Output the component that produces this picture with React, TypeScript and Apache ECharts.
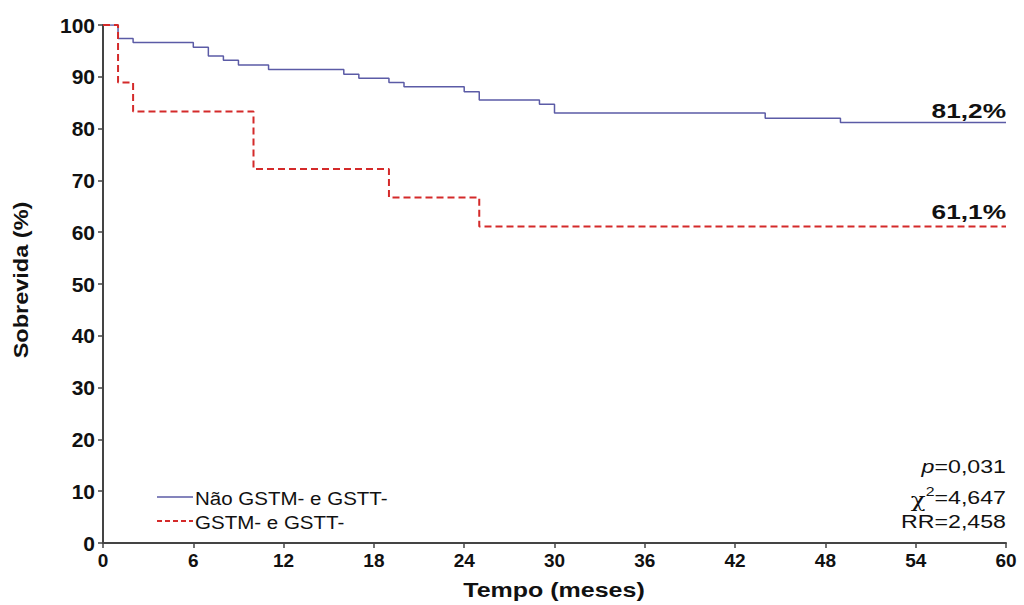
import React, { useEffect, useRef } from "react";
import * as echarts from "echarts";

const groupNames = ["Não GSTM- e GSTT-", "GSTM- e GSTT-"];
const blueMonths = [0, 1, 2, 6, 7, 8, 9, 11, 16, 17, 19, 20, 24, 25, 29, 30, 44, 49, 60];
const blueSurv = [100, 97.4, 96.6, 95.7, 94.0, 93.2, 92.3, 91.4, 90.5, 89.7, 88.9, 88.1, 87.1, 85.5, 84.7, 83.0, 82.0, 81.2, 81.2];
const redMonths = [0, 1, 2, 10, 19, 25, 60];
const redSurv = [100, 88.9, 83.3, 72.2, 66.7, 61.1, 61.1];
const endLabels = ["81,2%", "61,1%"];
const stats = { p: "0,031", chi2: "4,647", rr: "2,458" };
const axisTitles = { x: "Tempo (meses)", y: "Sobrevida (%)" };

const FONT = "'Liberation Sans', Arial, Helvetica, sans-serif";
const BLUE = "#5b5ba6";
const RED = "#d42a2a";
const INK = "#111111";

export default function App() {
  const ref = useRef<HTMLDivElement>(null);
  useEffect(() => {
    const chart = echarts.init(ref.current!, null, { renderer: "svg" });
    const blue = blueMonths.map((m, i) => [m, blueSurv[i]]);
    const red = redMonths.map((m, i) => [m, redSurv[i]]);
    chart.setOption({
      animation: false,
      backgroundColor: "#ffffff",
      grid: { left: 103, right: 18, top: 25, bottom: 62 },
      xAxis: {
        type: "value",
        min: 0,
        max: 60,
        interval: 6,
        axisLine: { lineStyle: { color: "#444", width: 2 } },
        axisTick: { show: true, length: 5, lineStyle: { color: "#444", width: 1.5 } },
        axisLabel: { fontFamily: FONT, fontWeight: "bold", fontSize: 19, color: INK, margin: 8 },
        splitLine: { show: false },
      },
      yAxis: {
        type: "value",
        min: 0,
        max: 100,
        interval: 10,
        axisLine: { show: true, lineStyle: { color: "#444", width: 2 } },
        axisTick: { show: true, length: 5, lineStyle: { color: "#444", width: 1.5 } },
        axisLabel: { fontFamily: FONT, fontWeight: "bold", fontSize: 21, color: INK, margin: 8 },
        splitLine: { show: false },
      },
      series: [
        {
          name: groupNames[0],
          type: "line",
          step: "end",
          data: blue,
          symbol: "none",
          lineStyle: { color: BLUE, width: 1.5 },
          itemStyle: { color: BLUE },
        },
        {
          name: groupNames[1],
          type: "line",
          step: "end",
          data: red,
          symbol: "none",
          lineStyle: { color: RED, width: 2, type: [7, 4] },
          itemStyle: { color: RED },
        },
      ],
    });

    const endB = chart.convertToPixel({ gridIndex: 0 }, [blueMonths[blueMonths.length - 1], blueSurv[blueSurv.length - 1]]) as number[];
    const endR = chart.convertToPixel({ gridIndex: 0 }, [redMonths[redMonths.length - 1], redSurv[redSurv.length - 1]]) as number[];

    const txt = (text: string, x: number, y: number, size: number, bold: boolean, sx: number, align = "left", extra: any = {}) => ({
      type: "text",
      x,
      y,
      scaleX: sx,
      style: {
        text,
        fontFamily: FONT,
        fontSize: size,
        fontWeight: bold ? "bold" : "normal",
        fill: INK,
        align,
        verticalAlign: "middle",
        ...extra,
      },
    });

    chart.setOption({
      graphic: [
        txt(axisTitles.x, 554, 590, 20, true, 1.25, "center"),
        {
          type: "text",
          x: 21,
          y: 280,
          rotation: Math.PI / 2,
          scaleX: 1.12,
          style: {
            text: axisTitles.y,
            fontFamily: FONT,
            fontSize: 21,
            fontWeight: "bold",
            fill: INK,
            align: "center",
            verticalAlign: "middle",
          },
        },
        txt(endLabels[0], endB[0], endB[1] - 12, 21, true, 1.25, "right"),
        txt(endLabels[1], endR[0], endR[1] - 15, 21, true, 1.25, "right"),
        // legend
        { type: "line", shape: { x1: 157, y1: 497, x2: 193, y2: 497 }, style: { stroke: BLUE, lineWidth: 1.5 } },
        { type: "line", shape: { x1: 157, y1: 521, x2: 193, y2: 521 }, style: { stroke: RED, lineWidth: 2, lineDash: [5, 3] } },
        txt(groupNames[0], 195, 498, 19, false, 1.08),
        txt(groupNames[1], 195, 522, 19, false, 1.08),
        // stats
        {
          type: "text",
          x: 1006,
          y: 466,
          scaleX: 1.22,
          style: {
            text: "{i|p}=" + stats.p,
            fontFamily: FONT,
            fontSize: 19,
            fill: INK,
            align: "right",
            verticalAlign: "middle",
            rich: { i: { fontStyle: "italic", fontSize: 19, fontFamily: FONT, fill: INK } },
          },
        },
        {
          type: "text",
          x: 1006,
          y: 497,
          scaleX: 1.22,
          style: {
            text: "{g|χ}{s|2}{n|=" + stats.chi2 + "}",
            fontFamily: FONT,
            fontSize: 19,
            fill: INK,
            align: "right",
            verticalAlign: "middle",
            rich: {
              g: { fontSize: 20, fontFamily: "'DejaVu Serif', serif", fill: INK, padding: [6, 0, 0, 0] },
              s: { fontSize: 13, fontFamily: FONT, fill: INK, padding: [0, 0, 10, 0] },
              n: { fontSize: 19, fontFamily: FONT, fill: INK },
            },
          },
        },
        txt("RR=" + stats.rr, 1006, 521, 19, false, 1.22, "right"),
      ],
    });
    return () => chart.dispose();
  }, []);
  return <div ref={ref} style={{ width: 1024, height: 605, position: "absolute", left: 0, top: 0 }} />;
}
